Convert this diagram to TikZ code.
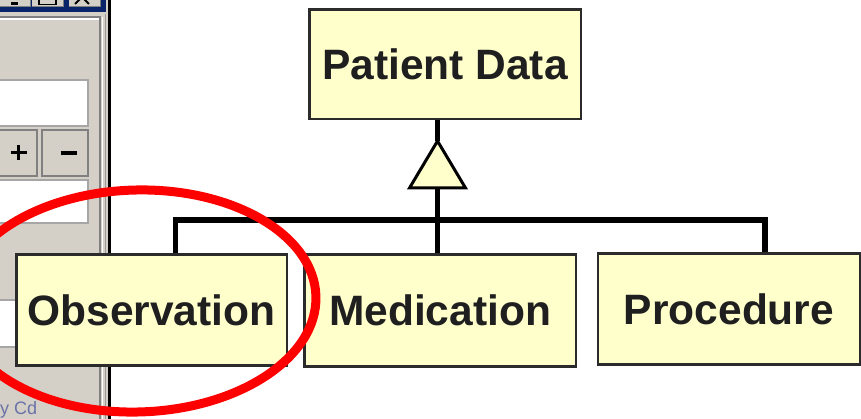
\documentclass[tikz,border=0pt]{standalone}
\usepackage{fontspec}
\setmainfont{Liberation Sans}
\definecolor{winface}{HTML}{D4D0C8}
\definecolor{winshadow}{HTML}{808080}
\definecolor{winblue}{HTML}{0A246A}
\definecolor{boxfill}{HTML}{FFFFCC}
\definecolor{boxline}{HTML}{2B2B2B}
\definecolor{hintblue}{HTML}{6A72A8}
\definecolor{ringred}{HTML}{FF0000}
\begin{document}
\begin{tikzpicture}[x=1pt,y=-1pt,
  classbox/.style={draw=boxline, fill=boxfill, line width=2.5pt, inner sep=0pt,
    text=black!88, font=\bfseries\fontsize{42.5}{42.5}\selectfont},
  conn/.style={line width=5.5pt, black, line join=miter},
  field/.style={fill=white, draw=winshadow!70, line width=1.5pt},
  winbtn/.style={fill=winface, draw=winshadow, line width=1.2pt}
]
\useasboundingbox (0,0) rectangle (861,419);
\clip (0,0) rectangle (861,419);

% --- dialog window fragment on the left ---
\fill[winface] (0,0) rectangle (108,419);
\fill[winblue] (0,0) rectangle (106,12.5);
\foreach \a/\b in {-3/30, 32/63, 69/100} {
  \fill[winface] (\a,-3) rectangle (\b,7);
  \draw[winshadow, line width=1pt] (\a,7) -- (\b,7) -- (\b,-3);
}
\fill[black] (11,2.5) rectangle (18,5.5);
\draw[black, line width=1.2pt] (39,-3) rectangle (56,4.5);
\draw[black, line width=2pt] (75,4) -- (89,-10) (89,4) -- (75,-10);

\draw[winshadow, line width=1.2pt] (0,17) -- (100,17) -- (100,419);
\draw[white, line width=1.5pt] (0,19) -- (98.5,19);
\draw[white, line width=1.5pt] (102.5,17) -- (102.5,419);
\draw[winshadow!80, line width=1pt] (105,14) -- (105,419);
\fill[black] (108,0) rectangle (111,419);

\draw[field] (-2,80) rectangle (88,126);
\draw[field] (-2,180) rectangle (88,223);
\draw[field] (-2,300) rectangle (88,347);

\node[winbtn, minimum width=39pt, minimum height=46pt, inner sep=0pt] (plusbtn) at (17.5,153) {};
\node[winbtn, minimum width=46pt, minimum height=46pt, inner sep=0pt] (minusbtn) at (65,153) {};
\draw[black, line width=3.5pt] (10.5,152.5) -- (26.5,152.5) (18.5,145) -- (18.5,160);
\draw[black, line width=3.5pt] (60.5,153) -- (76.5,153);

\node[anchor=base west, inner sep=0pt, text=hintblue,
  font=\fontsize{18}{18}\selectfont] (hint) at (0,414) {y Cd};

% --- class hierarchy ---
\node[classbox, minimum width=271.5pt, minimum height=109.5pt] (pd) at (445,64.5) {Patient Data};
\node[classbox, minimum width=270.5pt, minimum height=110.5pt] (obs) at (151.5,310) {Observation};
\node[classbox, minimum width=271.5pt, minimum height=111.5pt] (med) at (440,310.5) {Medication};
\node[classbox, minimum width=262.5pt, minimum height=110.5pt] (proc) at (729,309) {Procedure};

\coordinate (apex) at (437.5,141);
\coordinate (baseL) at (409.5,188);
\coordinate (baseR) at (465.5,188);
\coordinate (baseM) at (437.5,188);
\coordinate (busL) at (175.5,220);
\coordinate (busR) at (765,220);

\draw[conn] (pd.south -| apex) -- (apex);
\draw[conn] (baseM) -- (med.north -| baseM);
\draw[conn] (obs.north -| busL) -- (busL) -- (busR) -- (proc.north -| busR);
\filldraw[fill=boxfill, draw=black, line width=3pt, line join=miter]
  (apex) -- (baseR) -- (baseL) -- cycle;

% --- highlight ring ---
\draw[ringred, line width=9pt, rotate around={1.5:(137,301)}]
  (137,301) ellipse [x radius=179pt, y radius=111pt];
\end{tikzpicture}
\end{document}
